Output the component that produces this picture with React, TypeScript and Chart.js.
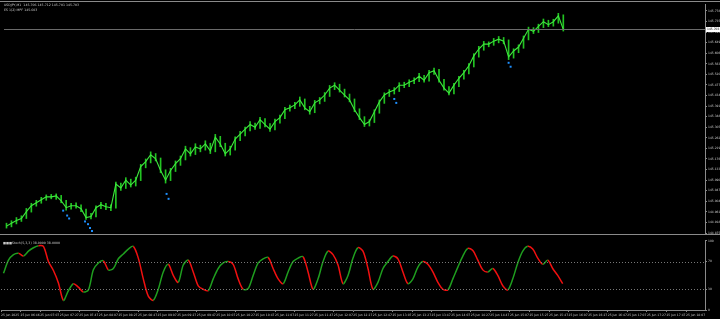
import React, { useEffect, useRef } from "react";
import { Chart, registerables } from "chart.js";
Chart.register(...registerables);

const symbolTitle = "USDJPY,M1  145.706 145.712 145.701 145.703";
const indicatorTitle = "ES 1(2) MPF 145.603";
const oscTitle = "\u25A0\u25A0\u25A0Stoch(5,3,3) 38.0000 38.0000";

const closes = [
  144.903,144.915,144.926,144.934,144.962,144.986,144.998,145.010,145.022,145.022,
  145.026,145.006,144.978,144.986,144.986,144.974,144.938,144.942,144.978,144.990,
  144.982,144.978,145.074,145.058,145.090,145.070,145.090,145.145,145.165,145.193,
  145.177,145.129,145.090,145.129,145.157,145.177,145.217,145.197,145.225,145.217,
  145.237,145.209,145.265,145.237,145.197,145.217,145.257,145.277,145.297,145.316,
  145.305,145.336,145.316,145.297,145.328,145.344,145.376,145.384,145.396,145.416,
  145.384,145.368,145.404,145.416,145.436,145.464,145.476,145.456,145.436,145.416,
  145.376,145.344,145.316,145.328,145.368,145.408,145.436,145.448,145.456,145.476,
  145.476,145.488,145.496,145.512,145.496,145.527,145.535,145.496,145.464,145.444,
  145.476,145.504,145.527,145.555,145.595,145.623,145.643,145.643,145.655,145.663,
  145.655,145.591,145.615,145.631,145.667,145.703,145.695,145.715,145.734,145.722,
  145.734,145.758,145.703,
];
const highs = [
  144.915,144.925,144.938,144.945,144.975,144.996,145.008,145.020,145.030,145.032,
  145.034,145.028,145.008,144.996,144.998,144.990,144.972,144.955,144.986,145.000,
  144.996,144.990,145.082,145.078,145.100,145.094,145.102,145.154,145.176,145.205,
  145.198,145.180,145.132,145.138,145.168,145.188,145.228,145.222,145.238,145.232,
  145.250,145.240,145.276,145.268,145.240,145.228,145.266,145.288,145.306,145.328,
  145.322,145.345,145.340,145.320,145.338,145.354,145.386,145.395,145.406,145.428,
  145.420,145.390,145.414,145.426,145.446,145.475,145.486,145.480,145.460,145.440,
  145.420,145.380,145.348,145.336,145.376,145.416,145.445,145.458,145.466,145.486,
  145.488,145.498,145.506,145.524,145.516,145.536,145.546,145.540,145.500,145.470,
  145.484,145.512,145.536,145.564,145.604,145.634,145.654,145.652,145.666,145.674,
  145.670,145.660,145.624,145.640,145.676,145.712,145.710,145.724,145.745,145.740,
  145.744,145.768,145.762,
];
const lows = [
  144.895,144.900,144.912,144.922,144.934,144.960,144.984,144.996,145.008,145.014,
  145.012,144.998,144.968,144.972,144.976,144.962,144.930,144.932,144.940,144.974,
  144.970,144.966,144.976,145.048,145.056,145.062,145.066,145.088,145.140,145.160,
  145.168,145.120,145.078,145.088,145.125,145.150,145.172,145.188,145.194,145.205,
  145.212,145.198,145.205,145.226,145.188,145.192,145.212,145.250,145.270,145.290,
  145.296,145.300,145.306,145.288,145.294,145.322,145.340,145.370,145.380,145.390,
  145.376,145.358,145.364,145.400,145.410,145.430,145.458,145.448,145.428,145.408,
  145.368,145.336,145.308,145.310,145.324,145.362,145.402,145.430,145.440,145.450,
  145.466,145.470,145.482,145.490,145.488,145.492,145.520,145.488,145.456,145.436,
  145.440,145.470,145.500,145.522,145.550,145.590,145.618,145.632,145.638,145.648,
  145.644,145.580,145.586,145.608,145.626,145.660,145.686,145.690,145.710,145.714,
  145.716,145.728,145.696,
];

const arrowIdx = [11.4, 12.2, 12.6, 15.8, 16.4, 16.8, 17.2, 32.2, 32.6, 78, 78.4, 101, 101.4];
const arrowPrice = [144.966, 144.946, 144.934, 144.922, 144.911, 144.895, 144.883, 145.034, 145.014, 145.42, 145.404, 145.567, 145.551];

const priceTicks = [
  "144.875","144.918","144.961","145.004","145.047","145.090","145.133","145.176",
  "145.219","145.262","145.305","145.348","145.391","145.434","145.477","145.520",
  "145.563","145.606","145.649","145.692","145.735","145.778",
];

const osc = [
  53,72,80,82,78,85,90,93,92,70,
  57,39,14,28,38,33,26,29,58,68,
  71,58,60,74,81,88,92,75,45,20,
  14,30,55,66,50,40,65,72,55,35,
  30,28,45,60,68,70,66,45,30,31,
  50,68,74,76,60,45,38,55,70,75,
  77,55,30,45,70,85,80,65,38,50,
  75,90,85,60,30,40,60,70,78,74,
  55,38,45,62,70,66,55,40,30,29,
  45,62,78,89,86,72,58,55,60,50,
  35,29,45,68,85,92,88,75,66,72,
  60,50,38,
];
const oscAxisLabels = [100, 70, 30, 0];
const oscLevels = [70, 30];

const timeLabels = [
  "25 Jun 2025","25 Jun 06:46","25 Jun 07:07","25 Jun 07:27","25 Jun 07:47","25 Jun 08:07",
  "25 Jun 08:27","25 Jun 08:47","25 Jun 09:07","25 Jun 09:27","25 Jun 09:47","25 Jun 10:07",
  "25 Jun 10:27","25 Jun 10:47","25 Jun 11:07","25 Jun 11:27","25 Jun 11:47","25 Jun 12:07",
  "25 Jun 12:27","25 Jun 12:47","25 Jun 13:07","25 Jun 13:27","25 Jun 13:47","25 Jun 14:07",
  "25 Jun 14:27","25 Jun 14:47","25 Jun 15:07","25 Jun 15:27","25 Jun 15:47","25 Jun 16:07",
  "25 Jun 16:27","25 Jun 16:47","25 Jun 17:07","25 Jun 17:27","25 Jun 17:47","25 Jun 18:07",
];

const SLOTS = 141;
const LABEL_STEP = 3.92;
const FONT = "DejaVu Sans";
const AXIS_GRAY = "#8a8a8a";
const TEXT = "#c8c8c8";

export default function App() {
  const mainRef = useRef<HTMLCanvasElement>(null);
  const oscRef = useRef<HTMLCanvasElement>(null);

  useEffect(() => {
    const mainOverlay = {
      id: "mainOverlay",
      afterDraw(chart: any) {
        const { ctx, chartArea, scales } = chart;
        ctx.save();
        ctx.strokeStyle = AXIS_GRAY;
        ctx.lineWidth = 1;
        ctx.beginPath();
        ctx.moveTo(0, 1.5);
        ctx.lineTo(720, 1.5);
        ctx.moveTo(0, chartArea.bottom + 0.5);
        ctx.lineTo(720, chartArea.bottom + 0.5);
        ctx.stroke();
        const last = closes[closes.length - 1];
        const py = Math.round(scales.y.getPixelForValue(last)) + 0.5;
        ctx.strokeStyle = "#6a6a6a";
        ctx.beginPath();
        ctx.moveTo(chartArea.left, py);
        ctx.lineTo(chartArea.right, py);
        ctx.stroke();
        ctx.fillStyle = "#ffffff";
        ctx.fillRect(chartArea.right + 1, py - 2.5, 14, 5);
        ctx.fillStyle = "#000000";
        ctx.font = `3px ${FONT}`;
        ctx.textBaseline = "middle";
        ctx.fillText(last.toFixed(3), chartArea.right + 2, py);
        ctx.fillStyle = TEXT;
        ctx.font = `3.2px ${FONT}`;
        ctx.fillText(symbolTitle, 4, 5);
        ctx.fillText(indicatorTitle, 4, 10);
        ctx.restore();
      },
    };

    const main = new Chart(mainRef.current!, {
      type: "bar",
      data: {
        datasets: [
          {
            type: "bar",
            data: closes.map((_, i) => ({ x: i, y: [lows[i], highs[i]] })) as any,
            backgroundColor: "#22c322",
            barThickness: 1,
            grouped: false,
            order: 2,
          } as any,
          {
            type: "line",
            data: closes.map((c, i) => ({ x: i, y: c })),
            borderColor: "#3ee83e",
            borderWidth: 1.1,
            pointRadius: 0,
            tension: 0,
            order: 1,
          } as any,
          {
            type: "scatter",
            data: arrowIdx.map((x, i) => ({ x, y: arrowPrice[i] })),
            backgroundColor: "#1e90ff",
            borderWidth: 0,
            pointStyle: "rect",
            pointRadius: 1.4,
            order: 0,
          } as any,
        ],
      },
      options: {
        animation: false,
        responsive: false,
        devicePixelRatio: 1,
        layout: { padding: { top: 2, bottom: 1, left: 0, right: 0 } },
        plugins: { legend: { display: false }, tooltip: { enabled: false } },
        scales: {
          x: { type: "linear", min: -0.5, max: SLOTS - 0.5, offset: false, display: false, grid: { offset: false } },
          y: {
            type: "linear",
            position: "right",
            min: 144.871,
            max: 145.806,
            afterFit(s: any) {
              s.width = 15;
            },
            afterBuildTicks(s: any) {
              s.ticks = priceTicks.map((t) => ({ value: parseFloat(t) }));
            },
            ticks: {
              font: { size: 3, family: FONT },
              color: TEXT,
              padding: 1,
              autoSkip: false,
              callback: (_v: any, i: number) => priceTicks[i],
            },
            grid: { drawOnChartArea: false, tickLength: 2, color: AXIS_GRAY },
            border: { color: AXIS_GRAY },
          },
        },
      } as any,
      plugins: [mainOverlay],
    });

    const oscOverlay = {
      id: "oscOverlay",
      afterDraw(chart: any) {
        const { ctx, chartArea, scales } = chart;
        ctx.save();
        ctx.strokeStyle = "#777777";
        ctx.lineWidth = 1;
        ctx.setLineDash([1, 2]);
        ctx.beginPath();
        oscLevels.forEach((lv) => {
          const y = Math.round(scales.y.getPixelForValue(lv)) + 0.5;
          ctx.moveTo(chartArea.left, y);
          ctx.lineTo(chartArea.right, y);
        });
        ctx.stroke();
        ctx.setLineDash([]);
        ctx.fillStyle = TEXT;
        ctx.font = `3.2px ${FONT}`;
        ctx.textBaseline = "middle";
        ctx.fillText(oscTitle, 3, 5);
        ctx.restore();
      },
    };

    const oscChart = new Chart(oscRef.current!, {
      type: "line",
      data: {
        datasets: [
          {
            data: osc.map((v, i) => ({ x: i, y: v })),
            borderWidth: 1.5,
            pointRadius: 0,
            tension: 0.3,
            segment: {
              borderColor: (c: any) => (c.p1.parsed.y >= c.p0.parsed.y ? "#1f9e1f" : "#f01010"),
            },
          } as any,
        ],
      },
      options: {
        animation: false,
        responsive: false,
        devicePixelRatio: 1,
        layout: { padding: { top: 2, bottom: 0, left: 0, right: 0 } },
        plugins: { legend: { display: false }, tooltip: { enabled: false } },
        scales: {
          x: {
            type: "linear",
            min: -0.5,
            max: SLOTS - 0.5,
            offset: false,
            afterFit(s: any) {
              s.height = 9;
            },
            afterBuildTicks(s: any) {
              s.ticks = timeLabels.map((_, k) => ({ value: k * LABEL_STEP - 0.5 }));
            },
            ticks: {
              font: { size: 3, family: FONT },
              color: TEXT,
              align: "start",
              maxRotation: 0,
              autoSkip: false,
              padding: 1,
              callback: (_v: any, i: number) => timeLabels[i],
            },
            grid: { drawOnChartArea: false, tickLength: 2, color: AXIS_GRAY },
            border: { color: AXIS_GRAY },
          },
          y: {
            type: "linear",
            position: "right",
            min: 0,
            max: 100,
            afterFit(s: any) {
              s.width = 15;
            },
            afterBuildTicks(s: any) {
              s.ticks = oscAxisLabels.map((v) => ({ value: v }));
            },
            ticks: {
              font: { size: 3, family: FONT },
              color: TEXT,
              padding: 1,
              autoSkip: false,
              callback: (v: any) => String(v),
            },
            grid: { drawOnChartArea: false, tickLength: 2, color: AXIS_GRAY },
            border: { color: AXIS_GRAY },
          },
        },
      } as any,
      plugins: [oscOverlay],
    });

    return () => {
      main.destroy();
      oscChart.destroy();
    };
  }, []);

  return (
    <div style={{ position: "fixed", left: 0, top: 0, width: 720, height: 319, background: "#000", overflow: "hidden" }}>
      <canvas ref={mainRef} width={720} height={238} style={{ position: "absolute", left: 0, top: 0, width: 720, height: 238 }} />
      <canvas ref={oscRef} width={720} height={81} style={{ position: "absolute", left: 0, top: 238, width: 720, height: 81 }} />
    </div>
  );
}
